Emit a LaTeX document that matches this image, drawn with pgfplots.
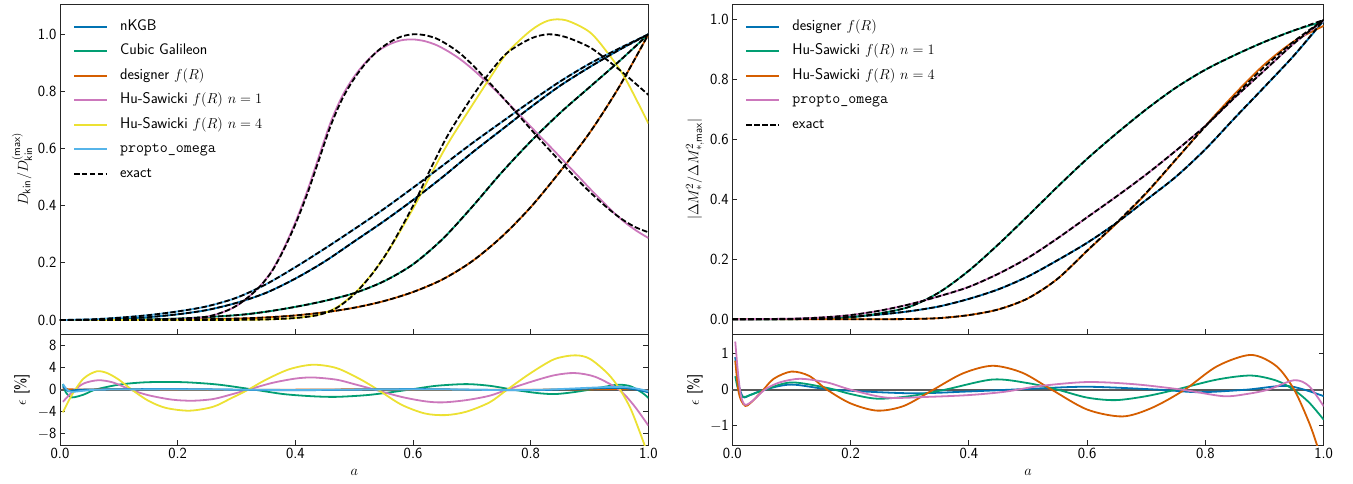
\documentclass[border=0pt]{standalone}
\usepackage{pgfplots}
\pgfplotsset{compat=1.18}
\renewcommand{\familydefault}{\sfdefault}
\definecolor{cbblue}{RGB}{1,115,178}
\definecolor{cbgreen}{RGB}{2,158,115}
\definecolor{cborange}{RGB}{213,94,0}
\definecolor{cbpink}{RGB}{204,120,188}
\definecolor{cbyellow}{RGB}{236,225,51}
\definecolor{cblight}{RGB}{86,180,233}
\newcommand{\fs}{\fontsize{15.5}{18}\selectfont}
\pgfplotsset{
  common/.style={
    scale only axis, xmin=0, xmax=1,
    axis line style={black!85, line width=0.9pt},
    tick style={black!85, line width=0.9pt},
    major tick length=5pt,
    tick align=inside,
    minor tick num=0,
    ticklabel style={font=\fs},
    label style={font=\fs},
    xtick={0,0.2,0.4,0.6,0.8,1},
  },
  mainax/.style={common, height=330pt,
    xticklabels={}, xtick pos=left, ytick pos=left,
    ytick={0,0.2,0.4,0.6,0.8,1.0}, yticklabels={0.0,0.2,0.4,0.6,0.8,1.0},
    legend style={draw=none, fill=none, at={(0.022,0.9615)}, anchor=north west,
      inner sep=0pt, row sep=5.5pt, column sep=10pt,
      nodes={inner sep=2pt, text height=11pt, text depth=4pt, font=\fs}},
    legend cell align=left,
    legend image code/.code={\draw[##1, line width=1.9pt] (0pt,0pt) -- (33pt,0pt);},
  },
  resax/.style={common, height=110.7pt,
    xticklabels={0.0,0.2,0.4,0.6,0.8,1.0}, xtick pos=left, ytick pos=both,
    xlabel={$a$}, xlabel style={at={(axis description cs:0.5,-0.245)}, anchor=center},
  },
  mline/.style={line width=1.8pt, smooth},
  exact/.style={black, line width=1.8pt, dash pattern=on 5.5pt off 2.4pt, smooth},
  rline/.style={line width=1.8pt, smooth},
}
\begin{document}
\begin{tikzpicture}
\useasboundingbox (0,0) rectangle (1353pt,483pt);
% ---------------- left main ----------------
\begin{axis}[mainax, at={(60pt,148.7pt)}, anchor=south west, width=588.4pt,
  ymin=-0.05, ymax=1.105,
  ylabel={$D_{\mathsf{kin}}/D_{\mathsf{kin}}^{(\mathsf{max})}$},
  ylabel style={at={(axis description cs:-0.0646,0.5)}, anchor=center}]
\addplot[mline, cbblue] coordinates {(0,0) (0.05,0.001) (0.1,0.004) (0.15,0.01) (0.2,0.02) (0.25,0.035) (0.3,0.06) (0.35,0.095) (0.4,0.145) (0.45,0.205) (0.5,0.275) (0.55,0.345) (0.6,0.42) (0.65,0.50) (0.7,0.585) (0.75,0.665) (0.8,0.745) (0.85,0.82) (0.9,0.885) (0.95,0.945) (1,1)};
\addlegendentry{nKGB}
\addplot[mline, cbgreen] coordinates {(0,0) (0.1,0.001) (0.2,0.005) (0.3,0.017) (0.35,0.029) (0.4,0.046) (0.45,0.067) (0.5,0.094) (0.55,0.135) (0.6,0.195) (0.65,0.283) (0.7,0.395) (0.75,0.515) (0.8,0.625) (0.85,0.725) (0.9,0.815) (0.95,0.905) (1,1)};
\addlegendentry{Cubic Galileon}
\addplot[mline, cborange] coordinates {(0,0) (0.1,0) (0.2,0.001) (0.3,0.005) (0.35,0.009) (0.4,0.016) (0.45,0.027) (0.5,0.043) (0.55,0.066) (0.6,0.098) (0.65,0.142) (0.7,0.205) (0.75,0.29) (0.8,0.395) (0.85,0.52) (0.9,0.655) (0.95,0.815) (1,1)};
\addlegendentry{designer $f(R)$}
\addplot[mline, cbpink] coordinates {(0,0) (0.1,0) (0.2,0.003) (0.25,0.0118) (0.28,0.0297) (0.3,0.0498) (0.32,0.08) (0.34,0.1187) (0.36,0.172) (0.38,0.249) (0.4,0.342) (0.42,0.45) (0.44,0.572) (0.46,0.692) (0.48,0.785) (0.5,0.852) (0.52,0.903) (0.54,0.941) (0.56,0.965) (0.58,0.979) (0.6,0.982) (0.62,0.976) (0.64,0.962) (0.66,0.94) (0.68,0.913) (0.7,0.88) (0.72,0.843) (0.74,0.804) (0.76,0.762) (0.78,0.72) (0.8,0.677) (0.82,0.634) (0.84,0.592) (0.86,0.548) (0.88,0.505) (0.9,0.461) (0.92,0.419) (0.94,0.378) (0.96,0.342) (0.98,0.312) (1,0.287)};
\addlegendentry{Hu-Sawicki $f(R)$ $n=1$}
\addplot[mline, cbyellow] coordinates {(0,0) (0.2,0) (0.3,0.0005) (0.35,0.002) (0.4,0.0073) (0.44,0.0188) (0.47,0.0437) (0.5,0.0925) (0.53,0.1605) (0.56,0.2485) (0.6,0.39) (0.63,0.508) (0.66,0.62) (0.7,0.75) (0.73,0.845) (0.76,0.935) (0.8,1.013) (0.83,1.048) (0.86,1.049) (0.9,1.008) (0.93,0.937) (0.96,0.848) (1,0.688)};
\addlegendentry{Hu-Sawicki $f(R)$ $n=4$}
\addplot[mline, cblight] coordinates {(0,0) (0.05,0.002) (0.1,0.008) (0.15,0.017) (0.2,0.03) (0.25,0.048) (0.3,0.078) (0.35,0.125) (0.4,0.185) (0.45,0.25) (0.5,0.318) (0.55,0.388) (0.6,0.463) (0.65,0.54) (0.7,0.618) (0.75,0.692) (0.8,0.765) (0.85,0.835) (0.9,0.897) (0.95,0.95) (1,1)};
\addlegendentry{\texttt{propto\_omega}}
\addplot[exact] coordinates {(0,0) (0.05,0.001) (0.1,0.004) (0.15,0.01) (0.2,0.02) (0.25,0.035) (0.3,0.06) (0.35,0.095) (0.4,0.145) (0.45,0.205) (0.5,0.275) (0.55,0.345) (0.6,0.42) (0.65,0.50) (0.7,0.585) (0.75,0.665) (0.8,0.745) (0.85,0.82) (0.9,0.885) (0.95,0.945) (1,1)};
\addlegendentry{exact}
\addplot[exact, forget plot] coordinates {(0,0) (0.1,0.001) (0.2,0.005) (0.3,0.017) (0.35,0.029) (0.4,0.046) (0.45,0.067) (0.5,0.094) (0.55,0.135) (0.6,0.195) (0.65,0.283) (0.7,0.395) (0.75,0.515) (0.8,0.625) (0.85,0.725) (0.9,0.815) (0.95,0.905) (1,1)};
\addplot[exact, forget plot] coordinates {(0,0) (0.1,0) (0.2,0.001) (0.3,0.005) (0.35,0.009) (0.4,0.016) (0.45,0.027) (0.5,0.043) (0.55,0.066) (0.6,0.098) (0.65,0.142) (0.7,0.205) (0.75,0.29) (0.8,0.395) (0.85,0.52) (0.9,0.655) (0.95,0.815) (1,1)};
\addplot[exact, forget plot] coordinates {(0,0) (0.1,0) (0.2,0.003) (0.25,0.012) (0.28,0.03) (0.3,0.05) (0.32,0.08) (0.34,0.118) (0.36,0.17) (0.38,0.245) (0.4,0.335) (0.42,0.44) (0.44,0.56) (0.46,0.68) (0.48,0.775) (0.5,0.845) (0.52,0.9) (0.54,0.942) (0.56,0.972) (0.58,0.992) (0.6,1.0) (0.62,0.997) (0.64,0.985) (0.66,0.962) (0.68,0.933) (0.7,0.895) (0.72,0.852) (0.74,0.808) (0.76,0.762) (0.78,0.715) (0.8,0.668) (0.82,0.622) (0.84,0.577) (0.86,0.533) (0.88,0.49) (0.9,0.449) (0.92,0.411) (0.94,0.376) (0.96,0.346) (0.98,0.323) (1,0.307)};
\addplot[exact, forget plot] coordinates {(0,0) (0.2,0) (0.3,0.0005) (0.35,0.002) (0.4,0.007) (0.44,0.018) (0.47,0.042) (0.5,0.09) (0.53,0.16) (0.56,0.25) (0.6,0.40) (0.63,0.53) (0.66,0.65) (0.7,0.78) (0.73,0.865) (0.76,0.935) (0.8,0.985) (0.83,1.0) (0.86,0.99) (0.9,0.955) (0.93,0.91) (0.96,0.86) (1,0.788)};
\addplot[exact, forget plot] coordinates {(0,0) (0.05,0.002) (0.1,0.008) (0.15,0.017) (0.2,0.03) (0.25,0.048) (0.3,0.078) (0.35,0.125) (0.4,0.185) (0.45,0.25) (0.5,0.318) (0.55,0.388) (0.6,0.463) (0.65,0.54) (0.7,0.618) (0.75,0.692) (0.8,0.765) (0.85,0.835) (0.9,0.897) (0.95,0.95) (1,1)};
\end{axis}
% ---------------- left residual ----------------
\begin{axis}[resax, at={(60pt,38pt)}, anchor=south west, width=588.4pt,
  ymin=-10, ymax=10, ytick={-8,-4,0,4,8}, yticklabels={$-$8,$-$4,0,4,8},
  ylabel={$\epsilon$ [\%]},
  ylabel style={at={(axis description cs:-0.0646,0.5)}, anchor=center}]
\addplot[black!65, line width=1.8pt] coordinates {(0,0) (1,0)};
\addplot[rline, cbgreen] coordinates {(0.005,1.0) (0.01,-0.5) (0.02,-1.4) (0.04,-0.9) (0.06,0) (0.1,0.9) (0.14,1.3) (0.18,1.4) (0.22,1.3) (0.27,0.9) (0.33,0) (0.38,-0.8) (0.43,-1.2) (0.47,-1.3) (0.52,-1.0) (0.56,-0.5) (0.6,0.1) (0.64,0.7) (0.69,1.0) (0.73,0.7) (0.77,0) (0.81,-0.6) (0.84,-0.8) (0.87,-0.5) (0.9,0) (0.93,0.6) (0.95,0.9) (0.97,0.6) (0.99,-0.6) (1,-1.5)};
\addplot[rline, cborange] coordinates {(0.005,0.3) (0.02,0.05) (0.1,0.05) (0.3,-0.05) (0.5,0.05) (0.7,-0.05) (0.9,0.05) (0.97,0.1) (1,-0.3)};
\addplot[rline, cbpink] coordinates {(0.005,-2.2) (0.02,-0.5) (0.04,1.1) (0.065,1.7) (0.09,1.3) (0.12,0) (0.15,-1.0) (0.19,-1.8) (0.225,-2.0) (0.26,-1.7) (0.29,-0.9) (0.32,0) (0.36,1.2) (0.4,2.0) (0.43,2.2) (0.47,1.8) (0.5,1.0) (0.535,0) (0.58,-1.3) (0.62,-2.1) (0.65,-2.3) (0.69,-1.9) (0.73,-1.1) (0.76,0) (0.8,1.4) (0.84,2.6) (0.875,3.0) (0.91,2.3) (0.95,0) (0.975,-2.8) (1,-6.5)};
\addplot[rline, cbyellow] coordinates {(0.005,-4.1) (0.02,-1.0) (0.04,2.0) (0.062,3.3) (0.08,3.0) (0.1,1.8) (0.122,0) (0.15,-2.0) (0.18,-3.3) (0.22,-3.8) (0.26,-3.1) (0.29,-1.6) (0.32,0) (0.35,1.8) (0.39,3.7) (0.43,4.5) (0.47,3.9) (0.51,1.9) (0.54,0) (0.58,-2.7) (0.62,-4.3) (0.655,-4.6) (0.69,-4.0) (0.73,-2.3) (0.76,0) (0.8,3.0) (0.84,5.5) (0.875,6.2) (0.9,5.6) (0.93,3.0) (0.95,0.3) (0.97,-3.5) (0.99,-9.0) (1,-12)};
\addplot[rline, cbblue] coordinates {(0.005,0.6) (0.015,-0.3) (0.04,0) (0.2,0.1) (0.4,-0.1) (0.6,0.1) (0.8,-0.1) (0.95,0.3) (1,-0.5)};
\addplot[rline, cblight] coordinates {(0.005,1.0) (0.012,0) (0.02,-0.4) (0.04,-0.2) (0.07,0) (0.2,0.05) (0.4,-0.05) (0.6,0.05) (0.8,-0.05) (0.95,0.5) (1,-0.3)};
\end{axis}
% ---------------- right main ----------------
\begin{axis}[mainax, at={(732.3pt,148.7pt)}, anchor=south west, width=591.4pt,
  ymin=-0.05, ymax=1.05,
  ylabel={$|\Delta M_*^2/\Delta M_{*,\mathsf{max}}^2|$},
  ylabel style={at={(axis description cs:-0.0629,0.5)}, anchor=center}]
\addplot[mline, cbblue] coordinates {(0,0) (0.1,0.001) (0.15,0.003) (0.2,0.008) (0.25,0.016) (0.3,0.027) (0.35,0.043) (0.4,0.068) (0.45,0.1) (0.5,0.143) (0.55,0.197) (0.6,0.255) (0.65,0.322) (0.7,0.398) (0.75,0.475) (0.8,0.567) (0.85,0.672) (0.9,0.775) (0.95,0.88) (1,0.995)};
\addlegendentry{designer $f(R)$}
\addplot[mline, cbgreen] coordinates {(0,0) (0.1,0.0005) (0.15,0.002) (0.2,0.007) (0.25,0.02) (0.3,0.042) (0.35,0.09) (0.4,0.162) (0.45,0.25) (0.5,0.345) (0.55,0.442) (0.6,0.535) (0.65,0.62) (0.7,0.70) (0.75,0.772) (0.8,0.832) (0.85,0.881) (0.9,0.925) (0.95,0.963) (1,0.993)};
\addlegendentry{Hu-Sawicki $f(R)$ $n=1$}
\addplot[mline, cborange] coordinates {(0,0) (0.2,0) (0.25,0.0003) (0.3,0.001) (0.35,0.004) (0.4,0.014) (0.45,0.033) (0.5,0.07) (0.55,0.135) (0.6,0.228) (0.65,0.32) (0.7,0.42) (0.75,0.532) (0.8,0.645) (0.85,0.752) (0.9,0.85) (0.95,0.927) (1,0.978)};
\addlegendentry{Hu-Sawicki $f(R)$ $n=4$}
\addplot[mline, cbpink] coordinates {(0,0) (0.1,0.002) (0.15,0.006) (0.2,0.014) (0.25,0.029) (0.3,0.05) (0.35,0.077) (0.4,0.108) (0.45,0.152) (0.5,0.205) (0.55,0.27) (0.6,0.34) (0.65,0.41) (0.7,0.483) (0.75,0.562) (0.8,0.645) (0.85,0.74) (0.9,0.83) (0.95,0.92) (1,0.995)};
\addlegendentry{\texttt{propto\_omega}}
\addplot[exact] coordinates {(0,0) (0.1,0.001) (0.15,0.003) (0.2,0.008) (0.25,0.016) (0.3,0.027) (0.35,0.043) (0.4,0.068) (0.45,0.1) (0.5,0.143) (0.55,0.197) (0.6,0.255) (0.65,0.322) (0.7,0.398) (0.75,0.475) (0.8,0.567) (0.85,0.672) (0.9,0.775) (0.95,0.88) (1,0.998)};
\addlegendentry{exact}
\addplot[exact, forget plot] coordinates {(0,0) (0.1,0.0005) (0.15,0.002) (0.2,0.007) (0.25,0.02) (0.3,0.042) (0.35,0.09) (0.4,0.162) (0.45,0.25) (0.5,0.345) (0.55,0.442) (0.6,0.535) (0.65,0.62) (0.7,0.70) (0.75,0.772) (0.8,0.832) (0.85,0.881) (0.9,0.925) (0.95,0.963) (1,0.998)};
\addplot[exact, forget plot] coordinates {(0,0) (0.2,0) (0.25,0.0003) (0.3,0.001) (0.35,0.004) (0.4,0.014) (0.45,0.033) (0.5,0.07) (0.55,0.135) (0.6,0.229) (0.65,0.322) (0.7,0.422) (0.75,0.533) (0.8,0.643) (0.85,0.745) (0.9,0.842) (0.95,0.927) (1,0.998)};
\addplot[exact, forget plot] coordinates {(0,0) (0.1,0.002) (0.15,0.006) (0.2,0.014) (0.25,0.029) (0.3,0.05) (0.35,0.077) (0.4,0.108) (0.45,0.152) (0.5,0.205) (0.55,0.27) (0.6,0.34) (0.65,0.41) (0.7,0.483) (0.75,0.562) (0.8,0.645) (0.85,0.74) (0.9,0.83) (0.95,0.92) (1,0.998)};
\end{axis}
% ---------------- right residual ----------------
\begin{axis}[resax, at={(732.3pt,38pt)}, anchor=south west, width=591.4pt,
  ymin=-1.53, ymax=1.53, ytick={-1,0,1}, yticklabels={$-$1,0,1},
  ylabel={$\epsilon$ [\%]},
  ylabel style={at={(axis description cs:-0.0629,0.5)}, anchor=center}]
\addplot[black!65, line width=1.8pt] coordinates {(0,0) (1,0)};
\addplot[rline, cbblue] coordinates {(0.005,0.9) (0.01,0.2) (0.018,-0.2) (0.03,-0.15) (0.055,0) (0.1,0.14) (0.17,0) (0.3,-0.1) (0.4,-0.05) (0.5,0.02) (0.6,0.08) (0.72,0) (0.79,-0.07) (0.87,0) (0.94,0.1) (1,-0.18)};
\addplot[rline, cbgreen] coordinates {(0.005,0.37) (0.01,0) (0.018,-0.2) (0.03,-0.15) (0.055,0) (0.1,0.2) (0.16,0.05) (0.2,-0.12) (0.245,-0.25) (0.3,-0.18) (0.36,0) (0.44,0.28) (0.5,0.18) (0.55,0) (0.6,-0.22) (0.648,-0.29) (0.7,-0.18) (0.75,0) (0.82,0.28) (0.877,0.39) (0.92,0.25) (0.949,0) (0.975,-0.35) (1,-0.83)};
\addplot[rline, cborange] coordinates {(0.005,0.8) (0.01,0) (0.015,-0.3) (0.022,-0.45) (0.03,-0.38) (0.05,-0.05) (0.07,0.3) (0.1,0.5) (0.13,0.38) (0.16,0) (0.2,-0.38) (0.245,-0.58) (0.29,-0.45) (0.34,0) (0.39,0.45) (0.44,0.66) (0.49,0.47) (0.54,0) (0.6,-0.55) (0.66,-0.74) (0.71,-0.5) (0.765,0) (0.82,0.65) (0.877,0.96) (0.92,0.65) (0.95,0) (0.975,-0.9) (0.99,-1.6) (1,-2.2)};
\addplot[rline, cbpink] coordinates {(0.005,1.33) (0.01,0.4) (0.015,-0.2) (0.022,-0.42) (0.035,-0.3) (0.055,0) (0.08,0.2) (0.115,0.3) (0.16,0.2) (0.2,0) (0.26,-0.22) (0.33,-0.2) (0.4,-0.15) (0.46,-0.06) (0.52,0.1) (0.6,0.21) (0.68,0.15) (0.76,0) (0.83,-0.18) (0.87,-0.12) (0.906,0) (0.95,0.26) (0.975,0.1) (1,-0.46)};
\end{axis}
\end{tikzpicture}
\end{document}
